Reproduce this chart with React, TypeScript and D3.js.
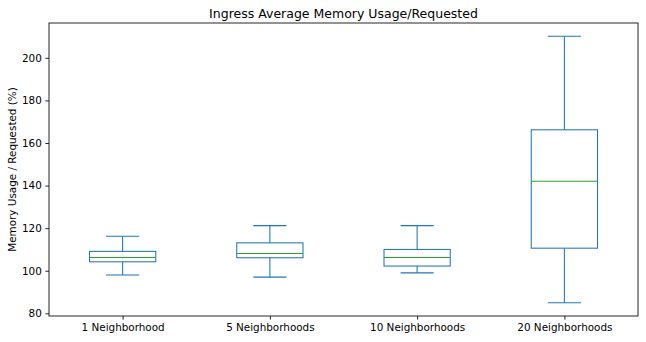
import React, { useEffect, useRef } from "react";
import * as d3 from "d3";

const categories = ["1 Neighborhood", "5 Neighborhoods", "10 Neighborhoods", "20 Neighborhoods"];
const whiskerLow = [98, 97, 99, 85];
const q1 = [104.2, 106.1, 102.2, 110.6];
const medians = [106.2, 108.1, 106.2, 142];
const q3 = [109.1, 113.1, 110, 166.2];
const whiskerHigh = [116.2, 121.2, 121.2, 210.1];
const yTicks = [80, 100, 120, 140, 160, 180, 200];

const width = 646;
const height = 342;
const margin = { top: 23, right: 8, bottom: 26, left: 49 };

export default function App() {
  const ref = useRef<SVGSVGElement>(null);

  useEffect(() => {
    const svg = d3.select(ref.current);
    svg.selectAll("*").remove();
    const font = "DejaVu Sans, sans-serif";
    const tickFont = 10.4;

    const x = d3.scaleLinear().domain([0.5, 4.5]).range([margin.left, width - margin.right]);
    const lo = d3.min(whiskerLow)!;
    const hi = d3.max(whiskerHigh)!;
    const pad = (hi - lo) * 0.05;
    const y = d3.scaleLinear().domain([lo - pad, hi + pad]).range([height - margin.bottom, margin.top]);

    const boxW = 0.45;
    const color = "#1f77b4";
    const lw = 1.05;
    const g = svg.append("g");

    categories.forEach((c, i) => {
      const pos = i + 1;
      const xl = x(pos - boxW / 2), xr = x(pos + boxW / 2), xc = x(pos);
      const cl = x(pos - boxW / 4), cr = x(pos + boxW / 4);
      // whiskers
      g.append("line").attr("x1", xc).attr("x2", xc).attr("y1", y(q1[i])).attr("y2", y(whiskerLow[i]))
        .attr("stroke", color).attr("stroke-width", lw);
      g.append("line").attr("x1", xc).attr("x2", xc).attr("y1", y(q3[i])).attr("y2", y(whiskerHigh[i]))
        .attr("stroke", color).attr("stroke-width", lw);
      // caps
      g.append("line").attr("x1", cl).attr("x2", cr).attr("y1", y(whiskerLow[i])).attr("y2", y(whiskerLow[i]))
        .attr("stroke", color).attr("stroke-width", lw);
      g.append("line").attr("x1", cl).attr("x2", cr).attr("y1", y(whiskerHigh[i])).attr("y2", y(whiskerHigh[i]))
        .attr("stroke", color).attr("stroke-width", lw);
      // box
      g.append("rect").attr("x", xl).attr("y", y(q3[i])).attr("width", xr - xl).attr("height", y(q1[i]) - y(q3[i]))
        .attr("fill", "none").attr("stroke", color).attr("stroke-width", lw);
      // median
      g.append("line").attr("x1", xl).attr("x2", xr).attr("y1", y(medians[i])).attr("y2", y(medians[i]))
        .attr("stroke", "#2ca02c").attr("stroke-width", lw);
    });

    // frame
    svg.append("rect")
      .attr("x", margin.left).attr("y", margin.top)
      .attr("width", width - margin.left - margin.right)
      .attr("height", height - margin.top - margin.bottom)
      .attr("fill", "none").attr("stroke", "#000").attr("stroke-width", 0.85);

    const yAxis = svg.append("g").attr("transform", `translate(${margin.left},0)`)
      .call(d3.axisLeft(y).tickValues(yTicks).tickSize(3.6).tickPadding(3.6));
    yAxis.select(".domain").remove();
    yAxis.selectAll("text").attr("font-family", font).attr("font-size", tickFont).attr("fill", "#000");
    yAxis.selectAll("line").attr("stroke", "#000").attr("stroke-width", 0.85);

    const xAxis = svg.append("g").attr("transform", `translate(0,${height - margin.bottom})`)
      .call(d3.axisBottom(x).tickValues([1, 2, 3, 4]).tickFormat((d) => categories[(d as number) - 1]).tickSize(3.6).tickPadding(3.6));
    xAxis.select(".domain").remove();
    xAxis.selectAll("text").attr("font-family", font).attr("font-size", tickFont).attr("fill", "#000");
    xAxis.selectAll("line").attr("stroke", "#000").attr("stroke-width", 0.85);

    svg.append("text")
      .attr("x", (margin.left + width - margin.right) / 2).attr("y", 18)
      .attr("text-anchor", "middle").attr("font-family", font).attr("font-size", 12.5)
      .text("Ingress Average Memory Usage/Requested");

    svg.append("text")
      .attr("transform", `translate(16,${(margin.top + height - margin.bottom) / 2}) rotate(-90)`)
      .attr("text-anchor", "middle").attr("font-family", font).attr("font-size", tickFont)
      .text("Memory Usage / Requested (%)");
  }, []);

  return (
    <svg ref={ref} width={width} height={height}
      style={{ position: "absolute", left: 0, top: 0, background: "#fff" }} />
  );
}
